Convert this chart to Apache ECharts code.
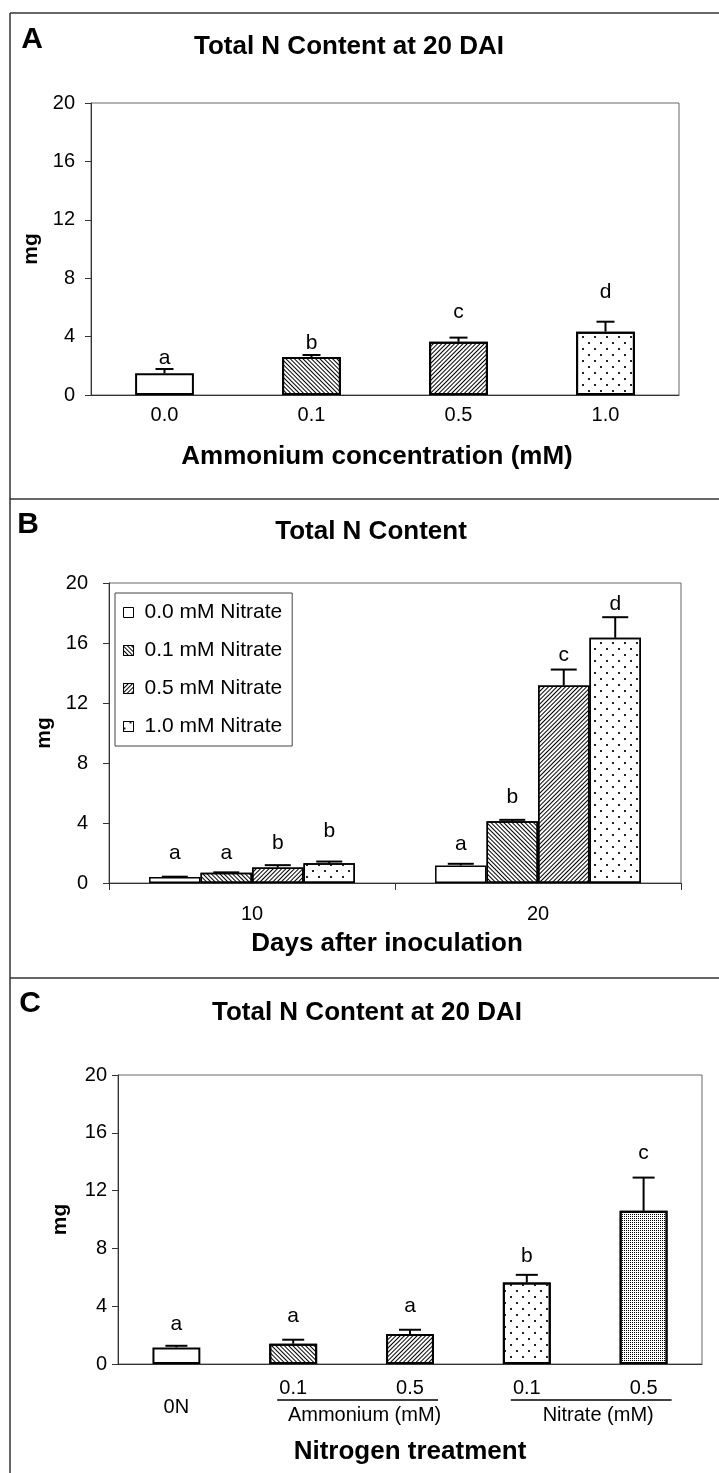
<!DOCTYPE html>
<html>
<head>
<meta charset="utf-8">
<title>Total N Content</title>
<script src="https://cdn.jsdelivr.net/npm/echarts@6/dist/echarts.min.js"></script>
<style>
  html, body { margin: 0; padding: 0; background: #fff; }
  #chart { width: 719px; height: 1473px; }
</style>
</head>
<body>
<div id="chart"></div>
<script>
// ---- y axis (mg) shared by all three panels ----
const mgTicks = [0, 4, 8, 12, 16, 20];

// ---- Panel A: total N at 20 DAI vs ammonium concentration ----
const ammoniumConc = ['0.0', '0.1', '0.5', '1.0'];
const ammoniumN = [1.49, 2.60, 3.65, 4.34];
const ammoniumSE = [0.29, 0.14, 0.28, 0.68];
const ammoniumGroups = ['a', 'b', 'c', 'd'];
const ammoniumGroupAt = [2.51, 3.54, 5.66, 7.03];

// ---- Panel B: total N at 10 and 20 DAI for four nitrate levels ----
const days = ['10', '20'];
const nitrateLevels = ['0.0 mM Nitrate', '0.1 mM Nitrate', '0.5 mM Nitrate', '1.0 mM Nitrate'];
const nitrate00N = [0.40, 1.17];
const nitrate01N = [0.68, 4.12];
const nitrate05N = [1.04, 13.17];
const nitrate10N = [1.31, 16.35];
const nitrate00SE = [0.02, 0.11];
const nitrate01SE = [0.03, 0.09];
const nitrate05SE = [0.15, 1.06];
const nitrate10SE = [0.12, 1.37];
const nitrate00Groups = ['a', 'a'];
const nitrate01Groups = ['a', 'b'];
const nitrate05Groups = ['b', 'c'];
const nitrate10Groups = ['b', 'd'];
const nitrate00GroupAt = [2.00, 2.61];
const nitrate01GroupAt = [2.00, 5.72];
const nitrate05GroupAt = [2.68, 15.17];
const nitrate10GroupAt = [3.45, 18.61];

// ---- Panel C: total N at 20 DAI by nitrogen treatment ----
const treatments = ['0N', '0.1', '0.5', '0.1', '0.5'];
const treatmentN = [1.15, 1.40, 2.07, 5.64, 10.60];
const treatmentSE = [0.11, 0.28, 0.30, 0.53, 2.30];
const treatmentGroups = ['a', 'a', 'a', 'b', 'c'];
const treatmentGroupAt = [2.72, 3.29, 3.98, 7.44, 14.58];
const nitrogenSources = ['Ammonium (mM)', 'Nitrate (mM)'];
const sourceMembers = [[1, 2], [3, 4]];

// ---- styling ----
const FONT = '"Liberation Sans", Arial, Helvetica, sans-serif';
const INK = '#000';
const AXIS = '#333';
const TICK_SIZE = 20;
const HEAD_SIZE = 26;

// fill patterns
const hatchDown = { symbol: 'rect', symbolSize: 1, dashArrayX: [1, 0], dashArrayY: [1, 2], rotation: Math.PI / 4, color: '#000' };
const hatchUp = { symbol: 'rect', symbolSize: 1, dashArrayX: [1, 0], dashArrayY: [1, 2], rotation: -Math.PI / 4, color: '#000' };
const sparseDots = { symbol: 'rect', symbolSize: 1, dashArrayX: [[2, 10], [0, 6, 2, 4]], dashArrayY: [2, 4], color: '#222' };
const fineDots = { symbol: 'rect', symbolSize: 1, dashArrayX: [1, 1], dashArrayY: [1, 1], color: '#000' };

const fourLevelPatterns = [null, hatchDown, hatchUp, sparseDots];
const treatmentPatterns = [null, hatchDown, hatchUp, sparseDots, fineDots];

const barStyle = { color: '#fff', borderColor: '#000', borderWidth: 2 };

// whisker (upper error bar) renderer; slot offsets bars inside a cluster
function whiskers(capWidth, share, clusterSize) {
  return function (params, api) {
    const cat = api.value(0), slot = api.value(1), mean = api.value(2), top = api.value(3);
    const band = api.size([1, 0])[0];
    const dx = (slot - (clusterSize - 1) / 2) * band * share;
    const base = api.coord([cat, mean]);
    const tip = api.coord([cat, top]);
    const x = base[0] + dx;
    return {
      type: 'group',
      children: [
        { type: 'line', shape: { x1: x, y1: base[1], x2: x, y2: tip[1] }, style: { stroke: INK, lineWidth: 2 } },
        { type: 'line', shape: { x1: x - capWidth / 2, y1: tip[1], x2: x + capWidth / 2, y2: tip[1] }, style: { stroke: INK, lineWidth: 2 } }
      ]
    };
  };
}

// significance letter renderer
function letters(texts, share, clusterSize) {
  return function (params, api) {
    const cat = api.value(0), slot = api.value(1), at = api.value(2);
    const band = api.size([1, 0])[0];
    const dx = (slot - (clusterSize - 1) / 2) * band * share;
    const p = api.coord([cat, at]);
    return {
      type: 'text',
      style: {
        x: p[0] + dx, y: p[1], text: texts[params.dataIndex],
        fill: INK, fontSize: 21, fontFamily: FONT,
        align: 'center', verticalAlign: 'middle',
        textAlign: 'center', textVerticalAlign: 'middle'
      }
    };
  };
}

function valueAxis(gridIndex, margin, nameGap) {
  return {
    gridIndex, type: 'value',
    min: mgTicks[0], max: mgTicks[mgTicks.length - 1], interval: mgTicks[1] - mgTicks[0],
    axisLine: { show: true, lineStyle: { color: AXIS, width: 1 } },
    axisTick: { show: true, length: 6, lineStyle: { color: AXIS } },
    splitLine: { show: false },
    axisLabel: { fontSize: TICK_SIZE, color: INK, fontFamily: FONT, margin },
    name: 'mg', nameLocation: 'middle', nameRotate: 90, nameGap,
    nameTextStyle: { fontSize: 21, fontWeight: 'bold', color: INK, fontFamily: FONT }
  };
}

const gridBox = { show: true, borderColor: '#666', borderWidth: 1, backgroundColor: 'transparent', containLabel: false };

// cluster data for panel B
const nitrateN = [nitrate00N, nitrate01N, nitrate05N, nitrate10N];
const nitrateSE = [nitrate00SE, nitrate01SE, nitrate05SE, nitrate10SE];
const nitrateGroups = [nitrate00Groups, nitrate01Groups, nitrate05Groups, nitrate10Groups];
const nitrateGroupAt = [nitrate00GroupAt, nitrate01GroupAt, nitrate05GroupAt, nitrate10GroupAt];
const B_SHARE = 0.18;

const nitrateBars = nitrateLevels.map((name, k) => ({
  name, type: 'bar', xAxisIndex: 1, yAxisIndex: 1,
  barWidth: (B_SHARE * 100) + '%', barGap: '0%',
  itemStyle: Object.assign({}, barStyle, { borderWidth: 1.5 }, fourLevelPatterns[k] ? { decal: fourLevelPatterns[k] } : {}),
  data: nitrateN[k]
}));

const nitrateWhiskerData = [];
const nitrateLetterData = [];
const nitrateLetterText = [];
days.forEach((d, i) => {
  nitrateLevels.forEach((lvl, k) => {
    nitrateWhiskerData.push([i, k, nitrateN[k][i], nitrateN[k][i] + nitrateSE[k][i]]);
    nitrateLetterData.push([i, k, nitrateGroupAt[k][i]]);
    nitrateLetterText.push(nitrateGroups[k][i]);
  });
});

const chart = echarts.init(document.getElementById('chart'), null, { renderer: 'canvas' });

chart.setOption({
  animation: false,
  backgroundColor: '#fff',
  textStyle: { fontFamily: FONT },
  grid: [
    Object.assign({ left: 91, top: 103, width: 588, height: 292 }, gridBox),
    Object.assign({ left: 109, top: 583, width: 572, height: 300 }, gridBox),
    Object.assign({ left: 118, top: 1075, width: 584, height: 289 }, gridBox)
  ],
  xAxis: [
    {
      gridIndex: 0, type: 'category', data: ammoniumConc,
      axisLine: { lineStyle: { color: AXIS } }, axisTick: { show: false },
      axisLabel: { fontSize: TICK_SIZE, color: INK, margin: 10, lineHeight: 20 },
      name: 'Ammonium concentration (mM)', nameLocation: 'middle', nameGap: 49,
      nameTextStyle: { fontSize: HEAD_SIZE, fontWeight: 'bold', color: INK, padding: [0, 16, 0, 0] }
    },
    {
      gridIndex: 1, type: 'category', data: days,
      axisLine: { lineStyle: { color: AXIS } },
      axisTick: { show: true, length: 7, lineStyle: { color: AXIS } },
      axisLabel: { fontSize: TICK_SIZE, color: INK, margin: 21, lineHeight: 20 },
      name: 'Days after inoculation', nameLocation: 'middle', nameGap: 48,
      nameTextStyle: { fontSize: HEAD_SIZE, fontWeight: 'bold', color: INK, padding: [0, 16, 0, 0] }
    },
    {
      gridIndex: 2, type: 'category', data: treatments,
      axisLine: { lineStyle: { color: AXIS } }, axisTick: { show: false },
      axisLabel: {
        fontSize: TICK_SIZE, color: INK, margin: 14, lineHeight: 20, interval: 0,
        formatter: (v, i) => (i === 0 ? '{low|' + v + '}' : v),
        rich: { low: { fontSize: TICK_SIZE, color: INK, padding: [38, 0, 0, 0] } }
      },
      name: 'Nitrogen treatment', nameLocation: 'middle', nameGap: 75,
      nameTextStyle: { fontSize: HEAD_SIZE, fontWeight: 'bold', color: INK }
    }
  ],
  yAxis: [valueAxis(0, 16, 48), valueAxis(1, 21, 53), valueAxis(2, 11, 47)],
  legend: {
    data: nitrateLevels, orient: 'vertical', left: 115, top: 593,
    icon: 'rect', itemWidth: 10, itemHeight: 10, itemGap: 17,
    padding: [9, 10, 9, 8], borderColor: '#444', borderWidth: 1, backgroundColor: '#fff',
    itemStyle: { borderWidth: 1, borderColor: '#000' },
    textStyle: { fontSize: 21, color: INK, padding: [0, 0, 0, 6] },
    selectedMode: false
  },
  series: [
    // Panel A
    {
      type: 'bar', xAxisIndex: 0, yAxisIndex: 0, barWidth: '40%', itemStyle: barStyle,
      data: ammoniumN.map((v, i) => (fourLevelPatterns[i] ? { value: v, itemStyle: { decal: fourLevelPatterns[i] } } : v))
    },
    {
      type: 'custom', xAxisIndex: 0, yAxisIndex: 0, z: 5,
      renderItem: whiskers(18, 0, 1), encode: { x: 0, y: 3 },
      data: ammoniumN.map((v, i) => [i, 0, v, v + ammoniumSE[i]])
    },
    {
      type: 'custom', xAxisIndex: 0, yAxisIndex: 0, z: 5,
      renderItem: letters(ammoniumGroups, 0, 1), encode: { x: 0, y: 2 },
      data: ammoniumGroupAt.map((v, i) => [i, 0, v])
    },
    // Panel B
    ...nitrateBars,
    {
      type: 'custom', xAxisIndex: 1, yAxisIndex: 1, z: 5,
      renderItem: whiskers(26, B_SHARE, 4), encode: { x: 0, y: 3 },
      data: nitrateWhiskerData
    },
    {
      type: 'custom', xAxisIndex: 1, yAxisIndex: 1, z: 5,
      renderItem: letters(nitrateLetterText, B_SHARE, 4), encode: { x: 0, y: 2 },
      data: nitrateLetterData
    },
    // Panel C
    {
      type: 'bar', xAxisIndex: 2, yAxisIndex: 2, barWidth: '41%', itemStyle: barStyle,
      data: treatmentN.map((v, i) => (treatmentPatterns[i] ? { value: v, itemStyle: { decal: treatmentPatterns[i] } } : v))
    },
    {
      type: 'custom', xAxisIndex: 2, yAxisIndex: 2, z: 5,
      renderItem: whiskers(22, 0, 1), encode: { x: 0, y: 3 },
      data: treatmentN.map((v, i) => [i, 0, v, v + treatmentSE[i]])
    },
    {
      type: 'custom', xAxisIndex: 2, yAxisIndex: 2, z: 5,
      renderItem: letters(treatmentGroups, 0, 1), encode: { x: 0, y: 2 },
      data: treatmentGroupAt.map((v, i) => [i, 0, v])
    }
  ]
});

// panel frames, panel letters, titles and the grouped treatment captions
const frame = { stroke: '#333', lineWidth: 1.5 };
const graphics = [
  { type: 'line', shape: { x1: 10, y1: 13, x2: 10, y2: 1473 }, style: frame },
  { type: 'line', shape: { x1: 10, y1: 13, x2: 719, y2: 13 }, style: frame },
  { type: 'line', shape: { x1: 10, y1: 499, x2: 719, y2: 499 }, style: frame },
  { type: 'line', shape: { x1: 10, y1: 978, x2: 719, y2: 978 }, style: frame }
];
function label(text, x, y, size, weight) {
  return {
    type: 'text',
    style: {
      x, y, text, fill: INK, fontSize: size, fontWeight: weight || 'normal', fontFamily: FONT,
      align: 'center', verticalAlign: 'middle', textAlign: 'center', textVerticalAlign: 'middle'
    }
  };
}
graphics.push(
  label('A', 32, 40, 30, 'bold'),
  label('Total N Content at 20 DAI', 349, 47, HEAD_SIZE, 'bold'),
  label('B', 28, 525, 30, 'bold'),
  label('Total N Content', 371, 532, HEAD_SIZE, 'bold'),
  label('C', 30, 1004, 30, 'bold'),
  label('Total N Content at 20 DAI', 367, 1013, HEAD_SIZE, 'bold')
);
const cZero = chart.convertToPixel({ yAxisIndex: 2 }, 0);
nitrogenSources.forEach((src, g) => {
  const xa = chart.convertToPixel({ xAxisIndex: 2 }, sourceMembers[g][0]);
  const xb = chart.convertToPixel({ xAxisIndex: 2 }, sourceMembers[g][1]);
  const x1 = xa - 16, x2 = xb + 28;
  graphics.push(
    { type: 'line', shape: { x1, y1: cZero + 36, x2, y2: cZero + 36 }, style: { stroke: INK, lineWidth: 1.5 } },
    label(src, (x1 + x2) / 2 + 7, cZero + 51, 20, 'normal')
  );
});
chart.setOption({ graphic: graphics });
</script>
</body>
</html>
